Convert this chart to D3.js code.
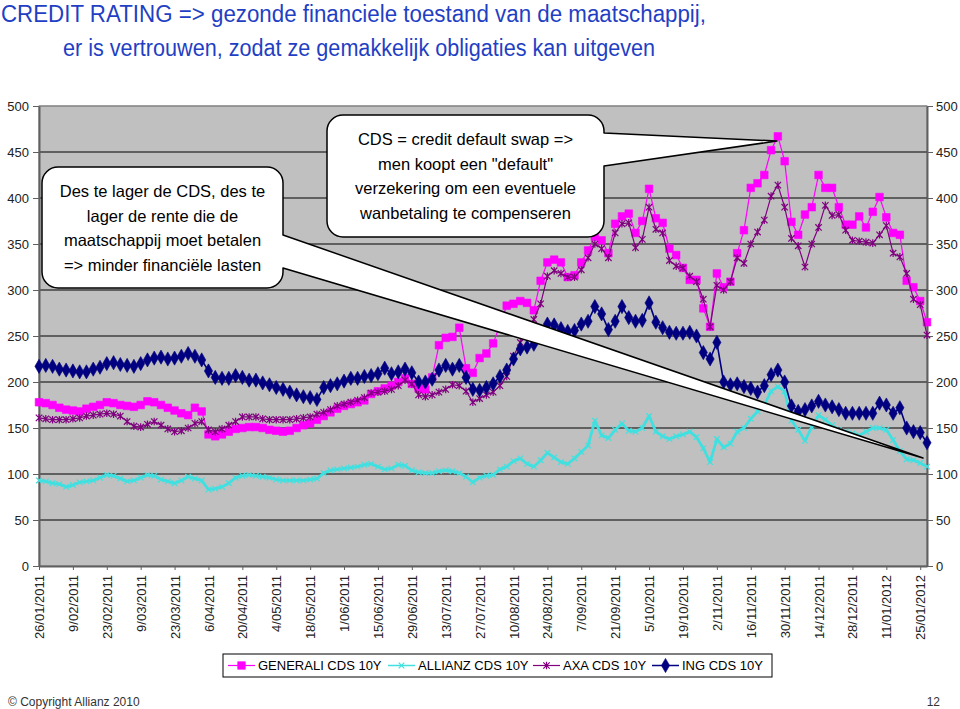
<!DOCTYPE html>
<html>
<head>
<meta charset="utf-8">
<script src="https://cdn.jsdelivr.net/npm/d3@7"></script>
<style>
  body { margin: 0; background: #fff; }
  svg { display: block; font-family: "Liberation Sans", Arial, sans-serif; }
</style>
</head>
<body>
<div id="chart"></div>
<script>
// one sample every 2 business days, a date tick every 5 samples
const tickLabels = ["26/01/2011", "9/02/2011", "23/02/2011", "9/03/2011", "23/03/2011", "6/04/2011",
  "20/04/2011", "4/05/2011", "18/05/2011", "1/06/2011", "15/06/2011", "29/06/2011", "13/07/2011",
  "27/07/2011", "10/08/2011", "24/08/2011", "7/09/2011", "21/09/2011", "5/10/2011", "19/10/2011",
  "2/11/2011", "16/11/2011", "30/11/2011", "14/12/2011", "28/12/2011", "11/01/2012", "25/01/2012"];

const generali = [178, 177, 175, 172, 170, 169, 168, 171, 173, 175,
  178, 177, 175, 174, 173, 175, 179, 178, 175, 172,
  169, 166, 164, 172, 168, 143, 141, 143, 146, 149,
  150, 151, 151, 150, 148, 147, 146, 147, 150, 153,
  155, 159, 163, 167, 171, 174, 176, 178, 180, 187,
  190, 193, 196, 200, 204, 198, 193, 192, 205, 240,
  248, 249, 259, 215, 210, 226, 231, 242, 262, 283,
  285, 288, 286, 278, 310, 330, 333, 330, 314, 316,
  330, 343, 358, 354, 340, 372, 380, 383, 362, 375,
  410, 378, 373, 345, 338, 324, 311, 311, 280, 260,
  318, 303, 309, 340, 365, 411, 416, 425, 452, 467,
  440, 374, 360, 382, 390, 425, 411, 411, 390, 371,
  371, 380, 368, 385, 401, 379, 362, 360, 310, 303,
  288, 265];

const allianz = [93, 92, 90, 89, 86, 88, 91, 92, 93, 96,
  99, 98, 95, 92, 93, 96, 99, 98, 94, 92,
  90, 93, 97, 95, 93, 83, 84, 86, 90, 96,
  98, 99, 98, 97, 96, 94, 93, 93, 93, 93,
  94, 95, 101, 104, 105, 106, 107, 108, 110, 111,
  108, 105, 106, 110, 109, 104, 102, 101, 101, 103,
  104, 103, 101, 97, 91, 96, 98, 99, 105, 108,
  114, 117, 111, 108, 115, 123, 118, 113, 111, 117,
  124, 131, 158, 142, 139, 148, 155, 147, 146, 150,
  163, 146, 141, 138, 141, 143, 146, 140, 128, 113,
  138, 129, 133, 146, 150, 160, 168, 175, 190, 195,
  190, 158, 148, 136, 151, 164, 159, 153, 148, 146,
  144, 142, 146, 150, 150, 148, 137, 125, 116, 115,
  112, 108];

const axa = [161, 160, 159, 159, 159, 160, 161, 163, 164, 165,
  166, 165, 163, 157, 152, 151, 154, 157, 153, 149,
  146, 147, 150, 155, 157, 148, 146, 149, 153, 157,
  162, 162, 162, 160, 159, 159, 159, 159, 160, 161,
  162, 165, 167, 170, 174, 176, 178, 180, 183, 188,
  189, 190, 192, 196, 202, 198, 186, 184, 186, 189,
  192, 197, 196, 190, 178, 182, 186, 189, 196, 206,
  228, 243, 256, 268, 285, 315, 321, 318, 314, 314,
  322, 335, 350, 345, 335, 362, 372, 373, 346, 355,
  390, 366, 362, 332, 326, 324, 315, 309, 290, 260,
  305, 300, 309, 335, 329, 350, 363, 376, 402, 414,
  390, 356, 348, 325, 350, 368, 392, 381, 382, 365,
  354, 353, 352, 351, 360, 370, 340, 336, 318, 290,
  284, 251];

const ing = [217, 218, 217, 214, 213, 212, 211, 211, 214, 216,
  220, 221, 219, 218, 217, 220, 224, 226, 227, 225,
  226, 228, 231, 228, 224, 212, 205, 204, 204, 207,
  205, 202, 202, 199, 197, 194, 192, 189, 186, 184,
  183, 181, 194, 196, 198, 201, 204, 204, 206, 207,
  209, 215, 209, 211, 214, 210, 200, 200, 203, 213,
  218, 214, 218, 205, 192, 191, 194, 198, 206, 213,
  225, 236, 238, 241, 250, 263, 262, 258, 255, 256,
  263, 266, 282, 274, 257, 266, 282, 270, 266, 267,
  286, 265, 259, 254, 253, 253, 254, 250, 232, 225,
  243, 200, 197, 198, 195, 193, 189, 196, 208, 213,
  200, 174, 168, 170, 174, 179, 175, 173, 170, 166,
  166, 166, 166, 166, 177, 175, 166, 172, 150, 146,
  145, 134];

const yTicks = [0, 50, 100, 150, 200, 250, 300, 350, 400, 450, 500];
const seriesNames = ["GENERALI CDS 10Y", "ALLIANZ CDS 10Y", "AXA CDS 10Y", "ING CDS 10Y"];

const titleLines = ["CREDIT RATING => gezonde financiele toestand van de maatschappij,",
  "er is vertrouwen, zodat ze gemakkelijk obligaties kan uitgeven"];
const note1Lines = ["Des te lager de CDS, des te", "lager de rente die de",
  "maatschappij moet betalen", "=> minder financiële lasten"];
const note2Lines = ["CDS = credit default swap =>", "men koopt een \"default\"",
  "verzekering om een eventuele", "wanbetaling te compenseren"];

const width = 960, height = 709;
const plot = { left: 39, right: 927, top: 106, bottom: 566 };

const svg = d3.select('#chart').append('svg')
  .attr('width', width)
  .attr('height', height);

// titel
svg.append('g').selectAll('text')
  .data(titleLines)
  .join('text')
  .attr('x', (d, i) => i === 0 ? 1 : 63)
  .attr('y', (d, i) => i === 0 ? 22 : 56)
  .attr('textLength', (d, i) => i === 0 ? 705 : 592)
  .attr('lengthAdjust', 'spacingAndGlyphs')
  .attr('font-size', 23.5)
  .attr('fill', '#1f3fc4')
  .text(d => d);

const x = d3.scaleLinear().domain([0, generali.length - 1]).range([plot.left, plot.right]);
const y = d3.scaleLinear().domain([0, 500]).range([plot.bottom, plot.top]);

// plotvlak
svg.append('rect')
  .attr('x', plot.left).attr('y', plot.top)
  .attr('width', plot.right - plot.left).attr('height', plot.bottom - plot.top)
  .attr('fill', '#c0c0c0')
  .attr('stroke', '#808080');

svg.append('g').selectAll('line')
  .data(yTicks.filter(v => v > 0))
  .join('line')
  .attr('x1', plot.left).attr('x2', plot.right)
  .attr('y1', d => y(d)).attr('y2', d => y(d))
  .attr('stroke', d => d === 500 ? '#808080' : '#000')
  .attr('stroke-width', 1.2);

// assen
const styleAxis = g => {
  g.attr('font-family', null).attr('font-size', 13);
  g.select('.domain').attr('stroke', '#606060').attr('stroke-width', 2);
  g.selectAll('.tick line').attr('stroke', '#606060');
  g.selectAll('.tick text').attr('fill', '#222');
};

svg.append('g')
  .attr('transform', `translate(${plot.left},0)`)
  .call(d3.axisLeft(y).tickValues(yTicks).tickSize(6).tickPadding(4).tickSizeOuter(0))
  .call(styleAxis);

svg.append('g')
  .attr('transform', `translate(${plot.right},0)`)
  .call(d3.axisRight(y).tickValues(yTicks).tickSize(6).tickPadding(3).tickSizeOuter(0))
  .call(styleAxis);

svg.append('g')
  .attr('transform', `translate(0,${plot.bottom})`)
  .call(d3.axisBottom(x)
    .tickValues(tickLabels.map((d, i) => i * 5))
    .tickFormat((d, i) => tickLabels[i])
    .tickSize(4).tickSizeOuter(0))
  .call(styleAxis)
  .selectAll('.tick text')
  .attr('transform', 'rotate(-90)')
  .attr('text-anchor', 'end')
  .attr('x', -9)
  .attr('y', 0)
  .attr('dy', '0.35em');

// reeksen
const markers = {
  square: 'M-3.8,-3.8h7.6v7.6h-7.6z',
  cross: 'M-2.8,-2.8L2.8,2.8M-2.8,2.8L2.8,-2.8',
  star: 'M-3.2,-3.2L3.2,3.2M-3.2,3.2L3.2,-3.2M0,-3.8V3.8',
  diamond: d3.symbol(d3.symbolDiamond, 58)()
};

const series = [
  { name: seriesNames[0], values: generali, color: '#ff00ff', lineWidth: 1.2, marker: 'square', filled: true },
  { name: seriesNames[1], values: allianz, color: '#40e0e0', lineWidth: 2.8, marker: 'cross', filled: false },
  { name: seriesNames[2], values: axa, color: '#800080', lineWidth: 1.2, marker: 'star', filled: false },
  { name: seriesNames[3], values: ing, color: '#000080', lineWidth: 1.6, marker: 'diamond', filled: true }
];

const line = d3.line().x((d, i) => x(i)).y(d => y(d));

const applyMarker = (sel, s) => sel
  .attr('d', markers[s.marker])
  .attr('fill', s.filled ? s.color : 'none')
  .attr('stroke', s.color)
  .attr('stroke-width', s.filled ? 0.6 : 1.2);

series.forEach(s => {
  const g = svg.append('g');
  g.append('path')
    .attr('d', line(s.values))
    .attr('fill', 'none')
    .attr('stroke', s.color)
    .attr('stroke-width', s.lineWidth)
    .attr('stroke-linejoin', 'round');
  g.selectAll('path.mk')
    .data(s.values)
    .join('path')
    .attr('class', 'mk')
    .attr('transform', (d, i) => `translate(${x(i)},${y(d)})`)
    .call(applyMarker, s);
});

// tekstballonnen
function calloutPath(b, t) {
  const r = b.r;
  return `M${b.x0 + r},${b.y0}H${b.x1 - r}A${r},${r} 0 0 1 ${b.x1},${b.y0 + r}` +
    `V${t.top}L${t.tipX},${t.tipY}L${b.x1},${t.bottom}` +
    `V${b.y1 - r}A${r},${r} 0 0 1 ${b.x1 - r},${b.y1}H${b.x0 + r}A${r},${r} 0 0 1 ${b.x0},${b.y1 - r}` +
    `V${b.y0 + r}A${r},${r} 0 0 1 ${b.x0 + r},${b.y0}Z`;
}

const callouts = [
  { box: { x0: 42, y0: 167, x1: 283, y1: 288, r: 16 },
    tail: { top: 235, bottom: 268, tipX: 923, tipY: 458 },
    lines: note1Lines, firstBaseline: 197 },
  { box: { x0: 327, y0: 115, x1: 604, y1: 237, r: 16 },
    tail: { top: 133, bottom: 166, tipX: 777, tipY: 141 },
    lines: note2Lines, firstBaseline: 145 }
];

callouts.forEach(c => {
  const g = svg.append('g');
  g.append('path')
    .attr('d', calloutPath(c.box, c.tail))
    .attr('fill', '#fff')
    .attr('stroke', '#000')
    .attr('stroke-width', 1.5)
    .attr('stroke-linejoin', 'round');
  g.selectAll('text')
    .data(c.lines)
    .join('text')
    .attr('x', (c.box.x0 + c.box.x1) / 2)
    .attr('y', (d, i) => c.firstBaseline + i * 24.5)
    .attr('text-anchor', 'middle')
    .attr('font-size', 16.5)
    .attr('fill', '#000')
    .text(d => d);
});

// legende
const legend = svg.append('g');
legend.append('rect')
  .attr('x', 223).attr('y', 654)
  .attr('width', 549).attr('height', 23)
  .attr('fill', '#fff')
  .attr('stroke', '#000');

const legendX = [228, 388, 533, 652];
series.forEach((s, i) => {
  const lx = legendX[i];
  legend.append('line')
    .attr('x1', lx).attr('x2', lx + 27)
    .attr('y1', 665.5).attr('y2', 665.5)
    .attr('stroke', s.color)
    .attr('stroke-width', Math.min(s.lineWidth, 1.5));
  legend.append('path')
    .attr('transform', `translate(${lx + 13.5},665.5)`)
    .call(applyMarker, s);
  legend.append('text')
    .attr('x', lx + 30)
    .attr('y', 670)
    .attr('font-size', 13)
    .attr('fill', '#000')
    .text(s.name);
});

// voettekst
svg.append('text')
  .attr('x', 8).attr('y', 706)
  .attr('font-size', 12)
  .attr('fill', '#333')
  .text('© Copyright Allianz 2010');

svg.append('text')
  .attr('x', 940).attr('y', 706)
  .attr('text-anchor', 'end')
  .attr('font-size', 12)
  .attr('fill', '#333')
  .text('12');
</script>
</body>
</html>
